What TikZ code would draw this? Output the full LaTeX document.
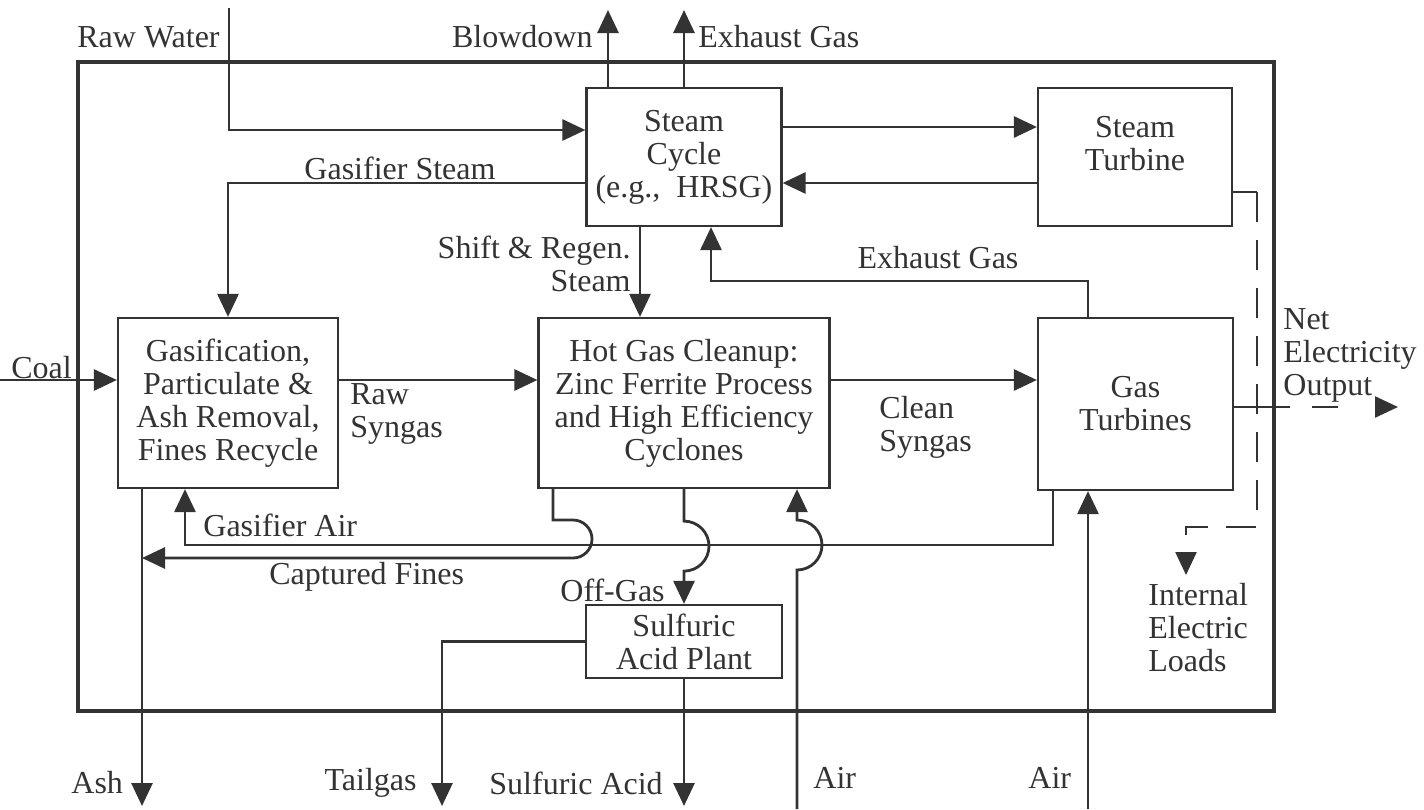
\documentclass[tikz,border=0pt]{standalone}
\usepackage{fontspec}
\setmainfont{Liberation Serif}
\usetikzlibrary{arrows.meta, calc}

\begin{document}
\begin{tikzpicture}[x=0.5pt, y=-0.5pt, line width=1.4pt, color=black!80,
	font=\fontsize{16}{16.5}\selectfont,
	unit/.style={draw, line width=1.1pt, align=center, inner sep=0pt},
	flow/.style={-{Triangle[length=11.5pt,width=10.5pt]}},
	elec/.style={line width=1.2pt, dash pattern=on 15pt off 9pt},
	txt/.style={inner sep=0pt, align=left}]
	\useasboundingbox (0,0) rectangle (1424,809);
	% plant boundary
	\draw[line width=2.4pt] (78,62) rectangle (1274,711);
	% units
	\node[unit, minimum width=97.5pt, minimum height=69pt] (cycle) at (684,157) {Steam\\Cycle\\(e.g.,~ HRSG)};
	\node[unit, minimum width=97pt, minimum height=69pt] (turb) at (1135,157) {Steam\\Turbine\\[-2.5pt]\mbox{}};
	\node[unit, minimum width=110pt, minimum height=85pt] (gasif) at (228,403) {Gasification,\\Particulate \&\\Ash Removal,\\Fines Recycle};
	\node[unit, minimum width=145.5pt, minimum height=85pt] (cleanup) at (684,403) {Hot Gas Cleanup:\\Zinc Ferrite Process\\and High Efficiency\\Cyclones};
	\node[unit, minimum width=97.5pt, minimum height=86pt] (gasturb) at (1135.5,404) {Gas\\Turbines};
	\node[unit, minimum width=98pt, minimum height=36.5pt] (acid) at (684,641.5) {Sulfuric\\Acid Plant};
	% free ends
	\coordinate (rw) at (229,8);
	\coordinate (bd) at (608,10);
	\coordinate (eg) at (684,10);
	\coordinate (coal) at (0,380);
	\coordinate (exh) at (711,281);
	\coordinate (ec) at (1257,192);
	\coordinate (el) at (1257,527);
	\coordinate (load) at (1186,575);
	\coordinate (no) at (1290,407);
	\coordinate (net) at (1398,407);
	\coordinate (gaR) at (1053,545);
	\coordinate (gaL) at (185,545);
	\coordinate (cf) at (553,520);
	\coordinate (cfL) at (142,558);
	\coordinate (ash) at (142,806);
	\coordinate (tail) at (442,806);
	\coordinate (sa) at (684,806);
	\coordinate (air1) at (797,809);
	\coordinate (air2) at (1088,809);
	% steam side
	\draw[flow] (rw) |- ([yshift=13.5pt]cycle.west);
	\draw[flow] (cycle.north -| bd) -- (bd);
	\draw[flow] (cycle.north -| eg) -- (eg);
	\draw[flow] ([yshift=15pt]cycle.east) -- ([yshift=15pt]turb.west);
	\draw[flow] ([yshift=-13pt]turb.west) -- ([yshift=-13pt]cycle.east);
	\draw[flow] ([yshift=-13pt]cycle.west) -| (gasif.north);
	\draw[flow] ([xshift=-22pt]cycle.south) -- ([xshift=-22pt]cleanup.north);
	\draw[flow] (gasturb.north -| air2) |- (exh) -- (exh |- cycle.south);
	% gas side
	\draw[flow] (coal) -- (coal -| gasif.west);
	\draw[flow] (gasif.east |- coal) -- (cleanup.west |- coal);
	\draw[flow] (cleanup.east |- coal) -- (gasturb.west |- coal);
	% electricity
	\draw[line width=1.2pt] ([yshift=-17.5pt]turb.east) -- (ec);
	\draw[elec, flow] (ec) -- (el) -| (load);
	\draw[line width=1.2pt] (gasturb.east |- net) -- (no);
	\draw[flow, line width=1.2pt, dash pattern=on 0pt off 11pt on 13pt off 40pt] (no) -- (net);
	% lower streams with hops
	\draw[flow] (gasturb.south -| gaR) -- (gaR) -- (gaL) -- (gaL |- gasif.south);
	\draw[flow] (cleanup.south -| cf) -- (cf) -- ++(20,0) arc[start angle=90, end angle=-90, radius=9.5pt] -- (cfL);
	\draw[flow] (gasif.south -| ash) -- (ash);
	\draw[flow] (cleanup.south) -- ++(0,32) arc[start angle=90, end angle=-90, radius=12.5pt] -- (acid.north);
	\draw[flow] (air1) -- ++(0,-239) arc[start angle=-90, end angle=90, radius=12.5pt] -- (cleanup.south -| air1);
	\draw[flow] (air2) -- (gasturb.south -| air2);
	\draw[flow] (acid.west) -| (tail);
	\draw[flow] (acid.south) -- (sa);
	% labels
	\node[txt, anchor=east] (lrw) at (221,37) {Raw Water};
	\node[txt, anchor=east] (lbd) at (594,37) {Blowdown};
	\node[txt, anchor=west] (leg) at (697,37) {Exhaust Gas};
	\node[txt] (lgs) at (400,168) {Gasifier Steam};
	\node[txt, anchor=east, align=right] (lsh) at (632,264) {Shift \& Regen.\\Steam};
	\node[txt] (lexh) at (938,258) {Exhaust Gas};
	\node[txt, anchor=west] (lcoal) at (10,368) {Coal};
	\node[txt, anchor=west] (lraw) at (349,414) {Raw\\Syngas};
	\node[txt, anchor=west] (lclean) at (878,427) {Clean\\Syngas};
	\node[txt, anchor=west] (lnet) at (1282,355) {Net\\Electricity\\Output};
	\node[txt, anchor=west] (lload) at (1147,628) {Internal\\Electric\\Loads};
	\node[txt, anchor=west] (lga) at (202,525) {Gasifier Air};
	\node[txt, anchor=west] (lcf) at (268,577) {Captured Fines};
	\node[txt, anchor=west] (log) at (559,590) {Off-Gas};
	\node[txt, anchor=west] (lash) at (70,783) {Ash};
	\node[txt, anchor=east] (ltail) at (418,783) {Tailgas};
	\node[txt, anchor=west] (lsa) at (488,783) {Sulfuric Acid};
	\node[txt, anchor=west] (lair1) at (812,778) {Air};
	\node[txt, anchor=west] (lair2) at (1027,778) {Air};
\end{tikzpicture}
\end{document}
